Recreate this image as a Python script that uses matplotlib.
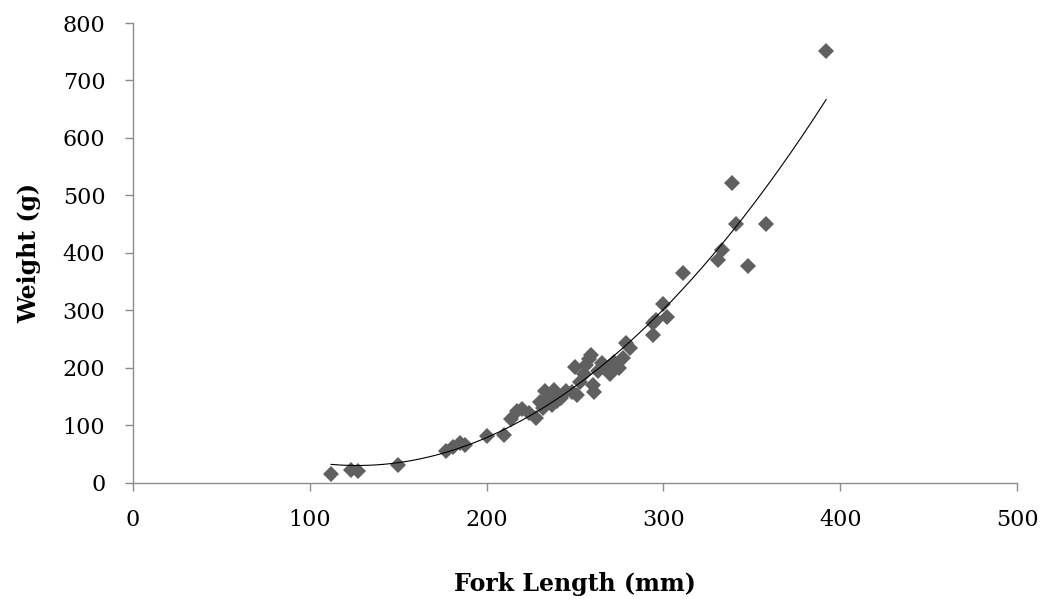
import matplotlib.pyplot as plt
import numpy as np

fork_length = [112, 123, 127, 150, 177, 181, 185, 188, 200, 210, 214, 217, 220, 224,
               228, 230, 232, 233, 235, 237, 238, 240, 242, 245, 248, 250, 251, 253,
               255, 256, 258, 259, 260, 261, 263, 265, 268, 270, 272, 275, 277, 279,
               281, 294, 294, 296, 300, 302, 311, 331, 333, 339, 341, 348, 358, 392]
weight = [15, 22, 21, 32, 55, 62, 70, 66, 82, 83, 112, 125, 128, 122,
          113, 140, 130, 160, 150, 135, 162, 142, 148, 160, 158, 202, 153, 175,
          190, 205, 215, 222, 170, 158, 195, 208, 200, 190, 210, 200, 218, 243,
          235, 258, 278, 283, 312, 289, 365, 388, 405, 522, 451, 378, 451, 751]

x = np.array(fork_length, dtype=float)
y = np.array(weight, dtype=float)

# Excel-style 2nd order polynomial trendline
coef = np.polyfit(x, y, 2)
xf = np.linspace(x.min(), x.max(), 200)
yf = np.polyval(coef, xf)

plt.rcParams["font.family"] = "DejaVu Serif"

fig = plt.figure(figsize=(10.41, 5.99), dpi=100)
ax = fig.add_axes([0.1278, 0.1937, 0.8492, 0.7679])

ax.plot(x, y, "D", color="#606060", markersize=8, markeredgewidth=0, zorder=3)
ax.plot(xf, yf, color="black", linewidth=0.8, zorder=4)

ax.set_xlim(0, 500)
ax.set_ylim(0, 800)
ax.set_xticks(np.arange(0, 501, 100))
ax.set_yticks(np.arange(0, 801, 100))

for s in ["top", "right"]:
    ax.spines[s].set_visible(False)
for s in ["left", "bottom"]:
    ax.spines[s].set_color("#8c8c8c")
    ax.spines[s].set_linewidth(1)
ax.tick_params(axis="both", direction="out", length=6, width=1, color="#8c8c8c",
               labelsize=16)
ax.tick_params(axis="x", pad=13)
ax.tick_params(axis="y", pad=14)

ax.set_xlabel("Fork Length (mm)", fontsize=17, fontweight="bold", labelpad=29)
ax.set_ylabel("Weight (g)", fontsize=17, fontweight="bold", labelpad=15)

plt.savefig("out.png", dpi=100)
